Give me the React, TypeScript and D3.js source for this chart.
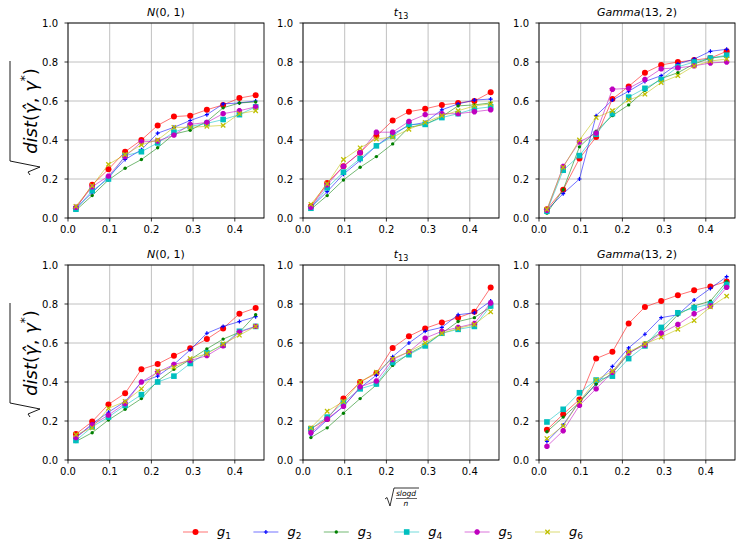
import * as d3 from "d3";
import React from "react";

// x positions shared by every panel: sqrt(s log d / n)
const xValues = [0.019, 0.058, 0.097, 0.137, 0.176, 0.215, 0.254, 0.293, 0.333, 0.372, 0.411, 0.45];

const seriesNames = ["1", "2", "3", "4", "5", "6"];
const seriesColors = ["#ff0000", "#0000ff", "#008000", "#00bfbf", "#bf00bf", "#bfbf00"];
const seriesMarkers = ["circle", "plus", "point", "square", "octagon", "x"];

const xTicks = [0.0, 0.1, 0.2, 0.3, 0.4];
const yTicks = [0.0, 0.2, 0.4, 0.6, 0.8, 1.0];

// top row
const topNormal = [
  [0.05, 0.17, 0.25, 0.34, 0.4, 0.475, 0.52, 0.525, 0.555, 0.58, 0.615, 0.63],
  [0.05, 0.13, 0.21, 0.3, 0.35, 0.435, 0.465, 0.5, 0.53, 0.585, 0.59, 0.6],
  [0.04, 0.115, 0.195, 0.255, 0.3, 0.36, 0.43, 0.45, 0.495, 0.565, 0.59, 0.595],
  [0.045, 0.14, 0.2, 0.32, 0.34, 0.385, 0.44, 0.47, 0.485, 0.505, 0.53, 0.57],
  [0.055, 0.16, 0.215, 0.315, 0.39, 0.395, 0.425, 0.48, 0.49, 0.535, 0.55, 0.57],
  [0.06, 0.165, 0.275, 0.325, 0.375, 0.4, 0.465, 0.465, 0.47, 0.475, 0.535, 0.55],
];
const topT13 = [
  [0.06, 0.18, 0.265, 0.335, 0.42, 0.5, 0.545, 0.56, 0.58, 0.59, 0.6, 0.645],
  [0.055, 0.135, 0.225, 0.295, 0.37, 0.43, 0.475, 0.49, 0.555, 0.585, 0.605, 0.61],
  [0.045, 0.115, 0.195, 0.26, 0.315, 0.38, 0.465, 0.48, 0.52, 0.575, 0.58, 0.59],
  [0.05, 0.155, 0.235, 0.305, 0.37, 0.42, 0.48, 0.48, 0.515, 0.535, 0.56, 0.57],
  [0.055, 0.17, 0.265, 0.335, 0.44, 0.44, 0.495, 0.53, 0.535, 0.535, 0.545, 0.555],
  [0.07, 0.175, 0.3, 0.36, 0.405, 0.415, 0.455, 0.49, 0.525, 0.55, 0.575, 0.585],
];
const topGamma = [
  [0.045, 0.145, 0.305, 0.415, 0.61, 0.675, 0.745, 0.785, 0.8, 0.81, 0.82, 0.855],
  [0.04, 0.125, 0.2, 0.525, 0.605, 0.65, 0.7, 0.73, 0.79, 0.815, 0.855, 0.865],
  [0.025, 0.145, 0.365, 0.445, 0.525, 0.58, 0.655, 0.715, 0.745, 0.79, 0.82, 0.83],
  [0.035, 0.245, 0.32, 0.43, 0.535, 0.62, 0.665, 0.71, 0.775, 0.8, 0.82, 0.835],
  [0.04, 0.265, 0.39, 0.435, 0.66, 0.665, 0.71, 0.765, 0.77, 0.78, 0.795, 0.8],
  [0.045, 0.26, 0.4, 0.515, 0.55, 0.605, 0.635, 0.695, 0.73, 0.78, 0.805, 0.815],
];

// bottom row
const botNormal = [
  [0.133, 0.197, 0.285, 0.342, 0.465, 0.492, 0.535, 0.573, 0.62, 0.675, 0.75, 0.78],
  [0.115, 0.185, 0.245, 0.3, 0.4, 0.43, 0.49, 0.565, 0.65, 0.685, 0.71, 0.735],
  [0.095, 0.14, 0.205, 0.26, 0.315, 0.405, 0.465, 0.515, 0.57, 0.62, 0.655, 0.745],
  [0.1, 0.17, 0.22, 0.28, 0.335, 0.4, 0.43, 0.495, 0.55, 0.59, 0.66, 0.685],
  [0.115, 0.18, 0.23, 0.29, 0.4, 0.45, 0.49, 0.51, 0.535, 0.585, 0.655, 0.685],
  [0.13, 0.165, 0.265, 0.3, 0.365, 0.455, 0.475, 0.52, 0.545, 0.595, 0.64, 0.685],
];
const botT13 = [
  [0.16, 0.21, 0.315, 0.4, 0.445, 0.575, 0.635, 0.675, 0.705, 0.73, 0.76, 0.885],
  [0.13, 0.205, 0.275, 0.37, 0.435, 0.53, 0.6, 0.66, 0.68, 0.745, 0.755, 0.815],
  [0.115, 0.165, 0.24, 0.315, 0.385, 0.485, 0.545, 0.59, 0.65, 0.71, 0.73, 0.785],
  [0.16, 0.22, 0.295, 0.365, 0.39, 0.5, 0.54, 0.585, 0.65, 0.67, 0.685, 0.79],
  [0.14, 0.21, 0.275, 0.375, 0.405, 0.515, 0.555, 0.625, 0.66, 0.68, 0.7, 0.805],
  [0.165, 0.25, 0.3, 0.4, 0.45, 0.52, 0.555, 0.6, 0.65, 0.675, 0.695, 0.76],
];
const botGamma = [
  [0.155, 0.235, 0.31, 0.52, 0.555, 0.7, 0.785, 0.815, 0.845, 0.87, 0.89, 0.915],
  [0.095, 0.18, 0.3, 0.39, 0.48, 0.575, 0.645, 0.73, 0.745, 0.82, 0.88, 0.94],
  [0.145, 0.22, 0.295, 0.39, 0.445, 0.545, 0.6, 0.655, 0.745, 0.79, 0.815, 0.915],
  [0.195, 0.26, 0.345, 0.41, 0.43, 0.52, 0.585, 0.68, 0.755, 0.78, 0.8, 0.9],
  [0.07, 0.15, 0.28, 0.365, 0.45, 0.55, 0.59, 0.65, 0.695, 0.75, 0.79, 0.885],
  [0.11, 0.175, 0.3, 0.41, 0.455, 0.555, 0.595, 0.63, 0.67, 0.715, 0.785, 0.84],
];

const FONT = "DejaVu Sans, sans-serif";
const W = 741;
const H = 549;
const panelLefts = [68, 303, 539];
const panelTops = [23, 265];
const PW = 196;
const PH = 195;

const Title: React.FC<{ kind: number; x: number; y: number }> = ({ kind, x, y }) => {
  if (kind === 0)
    return (
      <text x={x} y={y} textAnchor="middle" fontSize={11} fontFamily={FONT}>
        <tspan fontStyle="italic">N</tspan>(0, 1)
      </text>
    );
  if (kind === 1)
    return (
      <text x={x} y={y} textAnchor="middle" fontSize={11} fontFamily={FONT}>
        <tspan fontStyle="italic">t</tspan>
        <tspan fontSize={8} dy={3}>13</tspan>
      </text>
    );
  return (
    <text x={x} y={y} textAnchor="middle" fontSize={11} fontFamily={FONT}>
      <tspan fontStyle="italic">Gamma</tspan>(13, 2)
    </text>
  );
};

const Marker: React.FC<{ kind: string; x: number; y: number; color: string }> = ({ kind, x, y, color }) => {
  switch (kind) {
    case "circle":
      return <circle cx={x} cy={y} r={3} fill={color} />;
    case "plus":
      return (
        <path d={`M${x - 2},${y}H${x + 2}M${x},${y - 2}V${y + 2}`} stroke={color} strokeWidth={1.2} />
      );
    case "point":
      return <circle cx={x} cy={y} r={1.7} fill={color} />;
    case "square":
      return <rect x={x - 2.8} y={y - 2.8} width={5.6} height={5.6} fill={color} />;
    case "octagon":
      return (
        <path
          d={d3.range(8).map((i) => {
            const a = (Math.PI / 8) * (2 * i + 1);
            return `${i ? "L" : "M"}${x + 2.9 * Math.cos(a)},${y + 2.9 * Math.sin(a)}`;
          }).join("") + "Z"}
          fill={color}
        />
      );
    default:
      return (
        <path
          d={`M${x - 2.2},${y - 2.2}L${x + 2.2},${y + 2.2}M${x - 2.2},${y + 2.2}L${x + 2.2},${y - 2.2}`}
          stroke={color}
          strokeWidth={1.3}
        />
      );
  }
};

const Panel: React.FC<{ left: number; top: number; data: number[][]; kind: number }> = ({ left, top, data, kind }) => {
  const x = d3.scaleLinear().domain([0, 0.47]).range([left, left + PW]);
  const y = d3.scaleLinear().domain([0, 1]).range([top + PH, top]);
  const line = d3
    .line<number>()
    .x((_, i) => x(xValues[i]))
    .y((d) => y(d));

  return (
    <g>
      {xTicks.map((t) => (
        <line key={"gx" + t} x1={x(t)} x2={x(t)} y1={top} y2={top + PH} stroke="#b0b0b0" strokeWidth={0.8} />
      ))}
      {yTicks.map((t) => (
        <line key={"gy" + t} x1={left} x2={left + PW} y1={y(t)} y2={y(t)} stroke="#b0b0b0" strokeWidth={0.8} />
      ))}
      {data.map((vals, s) => (
        <g key={s}>
          <path d={line(vals) ?? ""} fill="none" stroke={seriesColors[s]} strokeOpacity={0.55} strokeWidth={1} />
          {vals.map((v, i) => (
            <Marker key={i} kind={seriesMarkers[s]} x={x(xValues[i])} y={y(v)} color={seriesColors[s]} />
          ))}
        </g>
      ))}
      <rect x={left} y={top} width={PW} height={PH} fill="none" stroke="#000" strokeWidth={0.9} />
      {xTicks.map((t) => (
        <g key={"tx" + t}>
          <line x1={x(t)} x2={x(t)} y1={top + PH} y2={top + PH + 3.5} stroke="#000" strokeWidth={0.8} />
          <text x={x(t)} y={top + PH + 15} textAnchor="middle" fontSize={10} fontFamily={FONT}>
            {t.toFixed(1)}
          </text>
        </g>
      ))}
      {yTicks.map((t) => (
        <g key={"ty" + t}>
          <line x1={left - 3.5} x2={left} y1={y(t)} y2={y(t)} stroke="#000" strokeWidth={0.8} />
          <text x={left - 10} y={y(t) + 3.6} textAnchor="end" fontSize={10} fontFamily={FONT}>
            {t.toFixed(1)}
          </text>
        </g>
      ))}
      <Title kind={kind} x={left + PW / 2} y={top - 7} />
    </g>
  );
};

const YLabel: React.FC<{ cy: number }> = ({ cy }) => (
  <g transform={`translate(37,${cy}) rotate(-90)`}>
    <path d="M-57,-7 L-54,-9 L-49,3 L-43,-27 L57,-27" fill="none" stroke="#000" strokeWidth={0.9} />
    <text x={7} y={0} textAnchor="middle" fontSize={18} fontFamily={FONT}>
      <tspan fontStyle="italic">dist</tspan>(<tspan fontStyle="italic">γ̂</tspan>, <tspan fontStyle="italic">γ</tspan>
      <tspan fontSize={12} dy={-8}>*</tspan>
      <tspan dy={8}>)</tspan>
    </text>
  </g>
);

const App: React.FC = () => {
  const rows = [
    [topNormal, topT13, topGamma],
    [botNormal, botT13, botGamma],
  ];
  const legendX = d3.scaleLinear().domain([0, 5]).range([183, 535]);
  return (
    <svg width={W} height={H} style={{ position: "absolute", left: 0, top: 0, background: "#fff" }}>
      <rect width={W} height={H} fill="#fff" />
      {rows.map((row, r) =>
        row.map((data, c) => (
          <Panel key={`${r}-${c}`} left={panelLefts[c]} top={panelTops[r]} data={data} kind={c} />
        ))
      )}
      <YLabel cy={118} />
      <YLabel cy={360} />
      {/* x label: sqrt(s log d / n) */}
      <g fontFamily={FONT} fontStyle="italic">
        <path d="M385,499 L387,497.5 L390,506 L394,488 L419,488" fill="none" stroke="#000" strokeWidth={0.8} />
        <text x={406} y={496} textAnchor="middle" fontSize={7.5}>slogd</text>
        <line x1={396} x2={417} y1={498.5} y2={498.5} stroke="#000" strokeWidth={0.6} />
        <text x={406} y={505.5} textAnchor="middle" fontSize={7.5}>n</text>
      </g>
      {/* legend */}
      {seriesNames.map((n, i) => {
        const lx = legendX(i);
        return (
          <g key={n}>
            <line x1={lx} x2={lx + 25} y1={532} y2={532} stroke={seriesColors[i]} strokeOpacity={0.55} strokeWidth={1} />
            <Marker kind={seriesMarkers[i]} x={lx + 12.5} y={532} color={seriesColors[i]} />
            <text x={lx + 34} y={536} fontSize={13} fontFamily={FONT} fontStyle="italic">
              g<tspan fontSize={9} dy={3} fontStyle="normal">{n}</tspan>
            </text>
          </g>
        );
      })}
    </svg>
  );
};

export default App;
